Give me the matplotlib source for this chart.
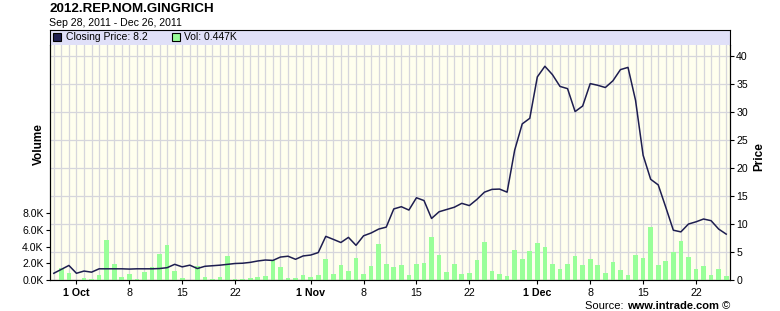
import matplotlib
matplotlib.use('Agg')
import matplotlib.pyplot as plt
from matplotlib.lines import Line2D
import pandas as pd

plt.rcParams['font.family'] = ['Liberation Sans', 'DejaVu Sans']

# daily closing price and volume (in K), Sep 28 - Dec 26, 2011
days = pd.date_range('2011-09-28', '2011-12-26', freq='D')
price = [1.2, 1.9, 2.6, 1.2, 1.6, 1.4, 2.0, 2.0, 2.0, 2.0,
         1.95, 2.0, 2.0, 2.0, 2.05, 2.2, 2.8, 2.35, 2.65, 2.05,
         2.45, 2.55, 2.65, 2.8, 2.95, 3.0, 3.15, 3.4, 3.57, 3.5,
         4.1, 4.25, 3.7, 4.3, 4.46, 4.9, 7.8, 7.26, 6.7, 7.62,
         6.2, 7.9, 8.4, 9.1, 9.45, 12.7, 13.1, 12.5, 14.7, 14.2,
         11.0, 12.2, 12.6, 13.0, 13.7, 13.3, 14.4, 15.7, 16.2, 16.25,
         15.7, 23.2, 27.9, 28.9, 36.3, 38.2, 36.7, 34.6, 34.2, 30.1,
         31.1, 35.1, 34.8, 34.4, 35.6, 37.6, 38.0, 32.1, 22.3, 18.0,
         17.0, 13.0, 8.9, 8.6, 10.0, 10.4, 10.9, 10.6, 9.1, 8.2]
volume_k = [0.0, 1.5, 0.82, 0.05, 0.26, 0.12, 0.6, 4.8, 1.92, 0.38,
            0.72, 0.12, 0.96, 1.52, 3.12, 4.2, 1.08, 0.25, 0.0, 1.65,
            0.4, 0.14, 0.38, 2.9, 0.14, 0.14, 0.27, 0.38, 0.5, 2.36,
            1.54, 0.24, 0.24, 0.6, 0.36, 0.6, 2.52, 0.72, 1.8, 1.08,
            2.64, 0.72, 1.68, 4.32, 1.92, 1.56, 1.8, 0.6, 1.92, 2.04,
            5.16, 3.0, 1.0, 1.92, 0.72, 0.84, 2.42, 4.56, 1.08, 0.72,
            0.48, 3.6, 2.52, 3.48, 4.44, 3.96, 1.92, 1.32, 1.92, 2.88,
            1.8, 2.52, 1.8, 0.84, 2.16, 1.2, 0.6, 3.0, 2.64, 6.36,
            1.8, 2.28, 3.32, 4.68, 2.76, 1.32, 1.68, 0.6, 1.32, 0.447]
tick_days = ['2011-10-01', '2011-10-08', '2011-10-15', '2011-10-22',
             '2011-11-01', '2011-11-08', '2011-11-15', '2011-11-22',
             '2011-12-01', '2011-12-08', '2011-12-15', '2011-12-22']
tick_labels = ['1 Oct', '8', '15', '22', '1 Nov', '8', '15', '22',
               '1 Dec', '8', '15', '22']
vol_ticks = [0, 2, 4, 6, 8]
price_ticks = [0, 5, 10, 15, 20, 25, 30, 35, 40]

W, H = 780, 311
line_col = '#1E1E50'
bar_col = '#99FF99'
grid_col = '#D6D6DC'

fig = plt.figure(figsize=(W / 100, H / 100), dpi=100)
rect = [50 / W, 31 / H, 680 / W, 235 / H]

# background axes: grid, price scale on the right
ax = fig.add_axes(rect)
ax.set_facecolor('#FFFFEE')
half = pd.Timedelta(hours=12)
ax.set_xlim(days[0] - half, days[-1] + half)
ax.set_ylim(0, 42)
ax.set_xticks(days, minor=True)
ax.set_xticks(pd.to_datetime(tick_days))
ax.set_xticklabels(tick_labels)
ax.set_yticks(price_ticks)
ax.grid(which='both', axis='x', color=grid_col, lw=0.9)
ax.grid(axis='y', color=grid_col, lw=0.9)
ax.tick_params(axis='x', which='minor', length=0)

# volume bars, scale on the left
vol = ax.twinx()
vol.bar(days, volume_k, width=0.62, color=bar_col, zorder=2)
vol.set_ylim(0, 28.2)
vol.set_yticks(vol_ticks)
vol.set_yticklabels([f'{v:.1f}K' for v in vol_ticks])

# price line on top
ln = ax.twinx()
ln.set_ylim(0, 42)
ln.plot(days, price, color=line_col, lw=1.1)
ln.axis('off')

ax.yaxis.tick_right()
vol.yaxis.tick_left()

for a in (ax, vol):
    a.spines['top'].set_visible(False)
    for s in ('left', 'right', 'bottom'):
        a.spines[s].set_color('black')
        a.spines[s].set_linewidth(0.8)
ax.tick_params(axis='y', labelsize=7.6, length=3, pad=1.5, colors='black')
vol.tick_params(axis='y', labelsize=7.6, length=3, pad=1.5, colors='black')
ax.tick_params(axis='x', which='major', labelsize=7.7, length=3, pad=2.5)
for lbl, txt in zip(ax.get_xticklabels(), tick_labels):
    if ' ' in txt:
        lbl.set_fontweight('bold')

# legend band
bax = fig.add_axes([50 / W, 266 / H, 680 / W, 15 / H])
bax.set_facecolor('#E0E0F8')
bax.set_xticks([])
bax.set_yticks([])
bax.spines['bottom'].set_visible(False)
for s in ('left', 'right', 'top'):
    bax.spines[s].set_color('black')
    bax.spines[s].set_linewidth(0.8)
handles = [Line2D([], [], ls='none', marker='s', ms=6, mfc=line_col, mec='black', mew=0.8),
           Line2D([], [], ls='none', marker='s', ms=6, mfc=bar_col, mec='black', mew=0.8)]
labels = [f'Closing Price: {price[-1]}', f'Vol: {volume_k[-1]}K']
bax.legend(handles, labels, loc='center left', bbox_to_anchor=(0, 0.5), ncol=2,
           frameon=False, fontsize=7.5, handlelength=0.9, handletextpad=0.35,
           columnspacing=2.3, borderaxespad=0.25, borderpad=0)

# titles and axis names
fig.text(49 / W, 1 - 12 / H, '2012.REP.NOM.GINGRICH', fontsize=9.6,
         fontweight='bold', va='baseline')
fig.text(49 / W, 1 - 26 / H, 'Sep 28, 2011 - Dec 26, 2011', fontsize=7.6,
         va='baseline')
fig.text(39 / W, 1 - 144 / H, 'Volume', rotation=90, fontsize=8.5,
         fontweight='bold', ha='center', va='center')
fig.text(759 / W, 1 - 157 / H, 'Price', rotation=90, fontsize=8.5,
         fontweight='bold', ha='center', va='center')

# source line, built right to left
c = fig.text(730 / W, 2 / H, ' \u00a9', fontsize=8, ha='right', va='baseline')
u = ax.annotate('www.intrade.com', xy=(0, 0), xycoords=c, ha='right', va='bottom',
                fontsize=8, fontweight='bold', annotation_clip=False)
ax.annotate('Source: ', xy=(0, 0), xycoords=u, ha='right', va='bottom',
            fontsize=8, annotation_clip=False)

fig.savefig('out.png', dpi=100)
